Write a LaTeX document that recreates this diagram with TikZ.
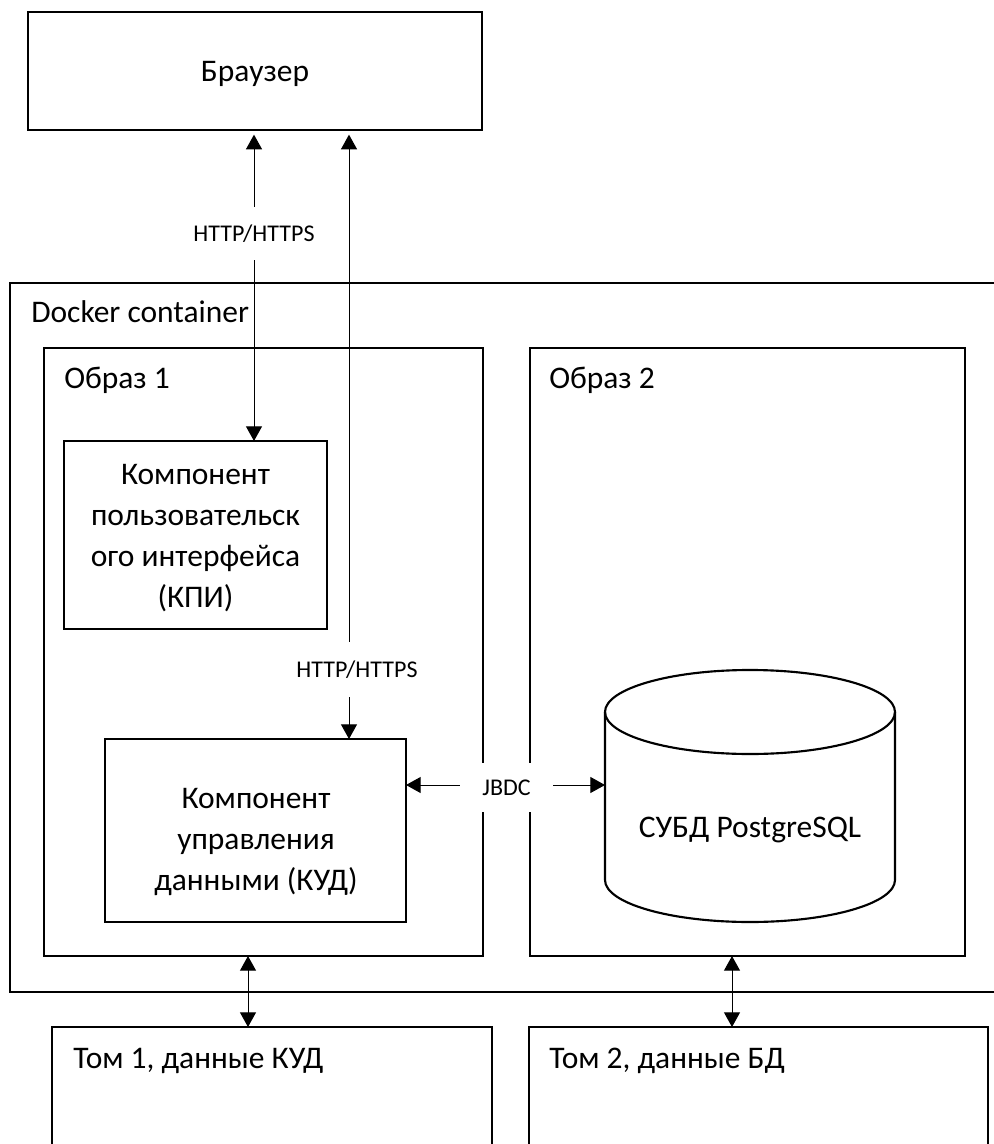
\documentclass[tikz,border=0pt]{standalone}
\usepackage{fontspec}
\setmainfont{Carlito}
\usetikzlibrary{arrows.meta,fit}
\begin{document}
\begin{tikzpicture}[x=0.75pt,y=-0.75pt,
  frame/.style={draw, line width=1.6pt, inner sep=0pt, outer sep=0pt},
  txt/.style={font=\fontsize{23.6pt}{30.75pt}\selectfont, inner sep=0pt, align=center},
  proto/.style={font=\fontsize{18pt}{21.6pt}\selectfont, fill=white, inner sep=0pt},
  link/.style={line width=0.75pt, {Triangle[width=12pt,length=11pt]}-{Triangle[width=12pt,length=11pt]}},
]
\useasboundingbox (0,0) rectangle (994,1144);

% browser
\node[frame, fit={(28,12) (482,130)}] (browser) {};
\node[txt, anchor=base] (browserT) at (255,82) {Браузер};

% docker container, its right side runs off the sheet
\node[frame, fit={(10,283) (1010,992)}] (docker) {};
\node[txt, anchor=base west] (dockerT) at (31,323) {Docker container};

% images
\node[frame, fit={(44,348) (483,956)}] (img1) {};
\node[txt, anchor=base west] (img1T) at (64,388) {Образ 1};
\node[frame, fit={(530,348) (965,956)}] (img2) {};
\node[txt, anchor=base west] (img2T) at (549,388) {Образ 2};

% components (a multi-line node sits on the baseline of its last line)
\node[frame, fit={(64,441) (327,629)}] (kpi) {};
\node[txt, anchor=base] (kpiT) at (195.5,607) {Компонент\\пользовательск\\ого интерфейса\\(КПИ)};
\node[frame, fit={(105,739) (406,922)}] (kud) {};
\node[txt, anchor=base] (kudT) at (256,890) {Компонент\\управления\\данными (КУД)};

% database cylinder
\node[inner sep=0pt, outer sep=0pt, fit={(605,670) (895,922)}] (db) {};
\draw[line width=1.6pt] (750,712) ellipse [x radius=108.75pt, y radius=31.5pt];
\draw[line width=1.6pt] (605,712) -- (605,880)
  .. controls (605,903.2) and (669.9,922) .. (750,922)
  .. controls (830.1,922) and (895,903.2) .. (895,880) -- (895,712);
\node[txt, anchor=base] (dbT) at (750,837) {СУБД PostgreSQL};

% volumes, their lower part runs off the sheet
\node[frame, fit={(52,1027) (492,1200)}] (vol1) {};
\node[txt, anchor=base west] (vol1T) at (73,1068) {Том 1, данные КУД};
\node[frame, fit={(529,1027) (988,1200)}] (vol2) {};
\node[txt, anchor=base west] (vol2T) at (549,1068) {Том 2, данные БД};

% connector columns and rows
\coordinate (c1) at (254,0);
\coordinate (c2) at (349,0);
\coordinate (c3) at (248,0);
\coordinate (c4) at (732,0);
\coordinate (r1) at (0,785);

% connectors
\draw[link, shorten <=3.5pt] (browser.south -| c1) -- (kpi.north -| c1);
\node[proto, minimum height=40pt, minimum width=95pt] (http1) at (254,233.5) {HTTP/HTTPS};

\draw[link, shorten <=3.5pt] (browser.south -| c2) -- (kud.north -| c2);
\node[proto, minimum height=41pt, minimum width=95pt] (http2) at (357,669.5) {HTTP/HTTPS};

\draw[link] (kud.east |- r1) -- (db.west |- r1);
\node[proto, minimum height=37pt, minimum width=70pt] (jdbc) at (506.5,787.5) {JBDC};

\draw[link] (img1.south -| c3) -- (vol1.north -| c3);
\draw[link] (img2.south -| c4) -- (vol2.north -| c4);
\end{tikzpicture}
\end{document}
